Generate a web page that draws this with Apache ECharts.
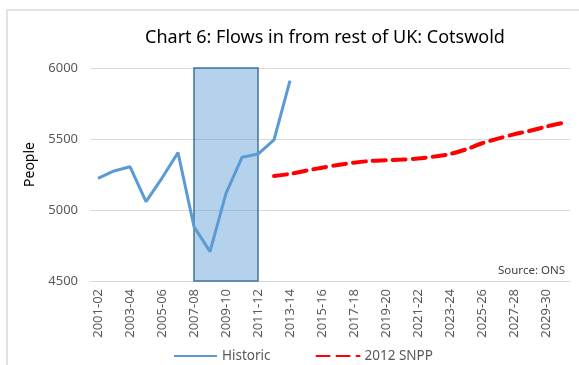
<!DOCTYPE html>
<html>
<head>
<meta charset="utf-8">
<script src="https://cdn.jsdelivr.net/npm/echarts@6/dist/echarts.min.js"></script>
<style>
  html, body { margin: 0; padding: 0; background: #fff; }
  #chart { width: 579px; height: 365px; }
</style>
</head>
<body>
<div id="chart"></div>
<script>
const years = [
  '2001-02', '2002-03', '2003-04', '2004-05', '2005-06', '2006-07', '2007-08', '2008-09',
  '2009-10', '2010-11', '2011-12', '2012-13', '2013-14', '2014-15', '2015-16', '2016-17',
  '2017-18', '2018-19', '2019-20', '2020-21', '2021-22', '2022-23', '2023-24', '2024-25',
  '2025-26', '2026-27', '2027-28', '2028-29', '2029-30', '2030-31'
]
// 2001-02 .. 2013-14
const historic = [5223, 5275, 5305, 5059, 5225, 5404, 4883, 4707, 5117, 5371, 5394, 5493, 5911]
// 2012-13 .. 2030-31
const snpp = [5239, 5254, 5277, 5298, 5317, 5333, 5345, 5350, 5355, 5362, 5376, 5394, 5427,
  5470, 5503, 5533, 5558, 5587, 5612]
const recession = ['2007-08', '2011-12']

const font = '"Noto Sans", sans-serif'

const pad = (arr, start) => years.map((_, i) => {
  const j = i - start
  return j >= 0 && j < arr.length ? arr[j] : null
})

const chart = echarts.init(document.getElementById('chart'))

const option = {
  backgroundColor: '#fff',
  animation: false,
  title: {
    text: 'Chart 6: Flows in from rest of UK: Cotswold',
    left: 320,
    textAlign: 'center',
    top: 24,
    textStyle: { fontFamily: font, fontSize: 18, fontWeight: 'normal', color: '#000' }
  },
  graphic: [
    {
      type: 'rect',
      shape: { x: 7, y: 10, width: 600, height: 400 },
      style: { fill: 'none', stroke: '#d9d9d9', lineWidth: 1.5 },
      silent: true
    },
    {
      type: 'text',
      right: 14,
      top: 265,
      style: { text: 'Source: ONS', font: '11.5px "Noto Sans", sans-serif', fill: '#404040' }
    }
  ],
  legend: {
    left: 168,
    top: 344,
    itemWidth: 43,
    itemHeight: 12,
    itemGap: 45,
    itemStyle: { opacity: 0 },
    textStyle: { fontFamily: font, fontSize: 13.5, color: '#595959' },
    data: ['Historic', '2012 SNPP']
  },
  grid: { left: 90, right: 9, top: 68, bottom: 84 },
  xAxis: {
    type: 'category',
    data: years,
    boundaryGap: true,
    axisTick: { show: false },
    axisLine: { lineStyle: { color: '#d9d9d9', width: 1 } },
    axisLabel: {
      rotate: 90,
      interval: 1,
      margin: 8,
      fontFamily: font,
      fontSize: 13,
      color: '#595959'
    }
  },
  yAxis: {
    type: 'value',
    min: 4500,
    max: 6000,
    interval: 500,
    name: 'People',
    nameLocation: 'middle',
    nameGap: 44,
    nameTextStyle: { fontFamily: font, fontSize: 14, color: '#000', padding: [0, 0, 0, 20] },
    axisLine: { show: false },
    axisTick: { show: false },
    axisLabel: {
      fontFamily: font,
      fontSize: 13,
      color: '#595959',
      margin: 12,
      formatter: (v) => String(v)
    },
    splitLine: { lineStyle: { color: '#d9d9d9', width: 1 } }
  },
  series: [
    {
      name: 'Historic',
      type: 'line',
      data: pad(historic, 0),
      symbol: 'none',
      lineStyle: { color: '#5b9bd5', width: 3 },
      itemStyle: { color: '#5b9bd5' },
      markArea: {
        silent: true,
        itemStyle: { color: 'rgba(91,155,213,0.45)', borderColor: '#41719c', borderWidth: 1.5 },
        data: [[{ xAxis: recession[0], yAxis: 6000 }, { xAxis: recession[1], yAxis: 4500 }]]
      },
      z: 3
    },
    {
      name: '2012 SNPP',
      type: 'line',
      data: pad(snpp, 11),
      symbol: 'none',
      smooth: 0.3,
      lineStyle: { color: '#ff0000', width: 4, type: [13, 7], cap: 'round' },
      itemStyle: { color: '#ff0000' },
      z: 2
    }
  ]
}

chart.setOption(option)
window.addEventListener('resize', () => chart.resize())
</script>
</body>
</html>
